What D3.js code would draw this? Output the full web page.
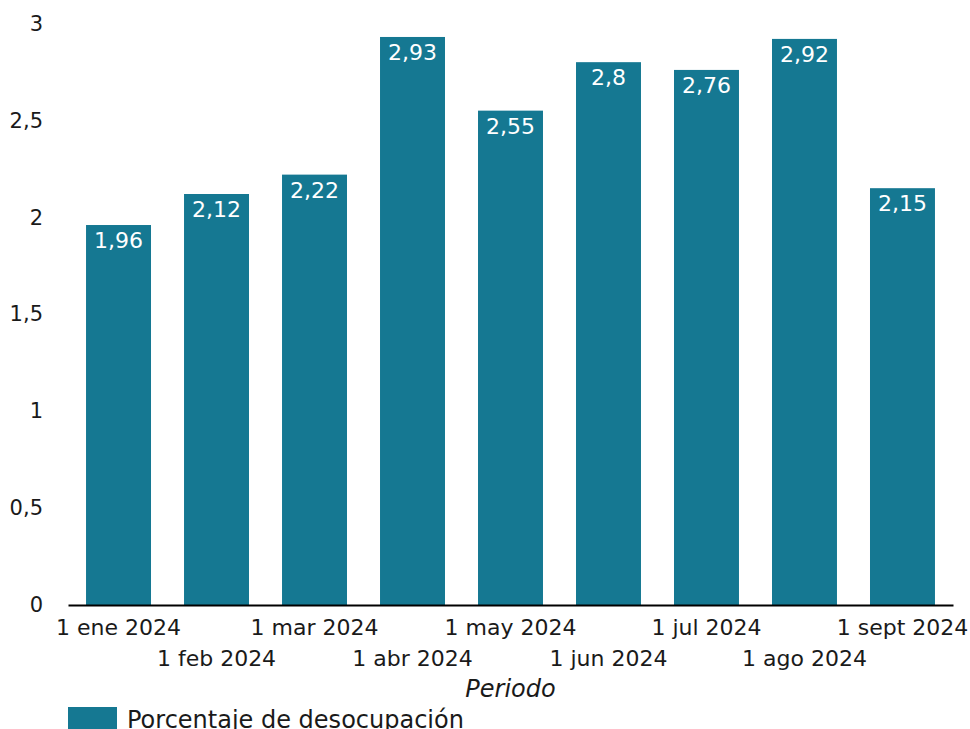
<!DOCTYPE html>
<html>
<head>
<meta charset="utf-8">
<script src="https://cdn.jsdelivr.net/npm/d3@7/dist/d3.min.js"></script>
<style>
  body { margin: 0; background: #fff; }
  svg text { font-family: "DejaVu Sans", sans-serif; }
</style>
</head>
<body>
<svg id="svg" width="970" height="729"></svg>
<script>
var periods = ["1 ene 2024", "1 feb 2024", "1 mar 2024", "1 abr 2024", "1 may 2024",
               "1 jun 2024", "1 jul 2024", "1 ago 2024", "1 sept 2024"];
var desocupacion = [1.96, 2.12, 2.22, 2.93, 2.55, 2.8, 2.76, 2.92, 2.15];
var yTicks = [0, 0.5, 1, 1.5, 2, 2.5, 3];
var seriesName = "Porcentaje de desocupación";
var axisTitle = "Periodo";

var svg = d3.select("#svg");
var barColor = "#157892";
var textColor = "#1a1a1a";

var fmt = function(v) { return String(v).replace(".", ","); };

var xScale = d3.scaleBand()
    .domain(periods)
    .range([68, 953])
    .paddingInner(0.337)
    .paddingOuter(0.184);

var yScale = d3.scaleLinear()
    .domain([0, 3])
    .range([605, 23.4]);

// y axis labels (no line, no ticks)
var yAxis = svg.append("g")
    .attr("transform", "translate(43,0)")
    .call(d3.axisLeft(yScale).tickValues(yTicks).tickSize(0).tickPadding(0).tickFormat(fmt));
yAxis.select(".domain").remove();
yAxis.selectAll("text")
    .attr("font-size", 21)
    .attr("fill", textColor);

// bars
svg.append("g").selectAll("rect")
    .data(desocupacion)
    .enter().append("rect")
    .attr("x", function(d, i) { return xScale(periods[i]); })
    .attr("width", xScale.bandwidth())
    .attr("y", function(d) { return yScale(d); })
    .attr("height", function(d) { return yScale(0) - yScale(d); })
    .attr("fill", barColor);

// value labels
svg.append("g").selectAll("text")
    .data(desocupacion)
    .enter().append("text")
    .attr("x", function(d, i) { return xScale(periods[i]) + xScale.bandwidth() / 2; })
    .attr("y", function(d) { return yScale(d) + 23; })
    .attr("text-anchor", "middle")
    .attr("font-size", 22)
    .attr("fill", "#fff")
    .text(fmt);

// x axis
var xAxis = svg.append("g")
    .attr("transform", "translate(0,605)")
    .call(d3.axisBottom(xScale).tickSize(0).tickPadding(0).tickSizeOuter(0));
xAxis.select(".domain")
    .attr("stroke", "#000")
    .attr("stroke-width", 2);
xAxis.selectAll("text")
    .attr("font-size", 22)
    .attr("fill", textColor)
    .attr("dy", null)
    .attr("y", function(d, i) { return i % 2 === 0 ? 30 : 61; });

// axis title
svg.append("text")
    .attr("x", (68 + 953) / 2)
    .attr("y", 697)
    .attr("text-anchor", "middle")
    .attr("font-size", 24)
    .attr("font-style", "italic")
    .attr("fill", textColor)
    .text(axisTitle);

// legend
var legend = svg.append("g").attr("transform", "translate(68,707)");
legend.append("rect")
    .attr("width", 49)
    .attr("height", 24)
    .attr("fill", barColor);
legend.append("text")
    .attr("x", 59)
    .attr("y", 21)
    .attr("font-size", 24)
    .attr("fill", textColor)
    .text(seriesName);
</script>
</body>
</html>
